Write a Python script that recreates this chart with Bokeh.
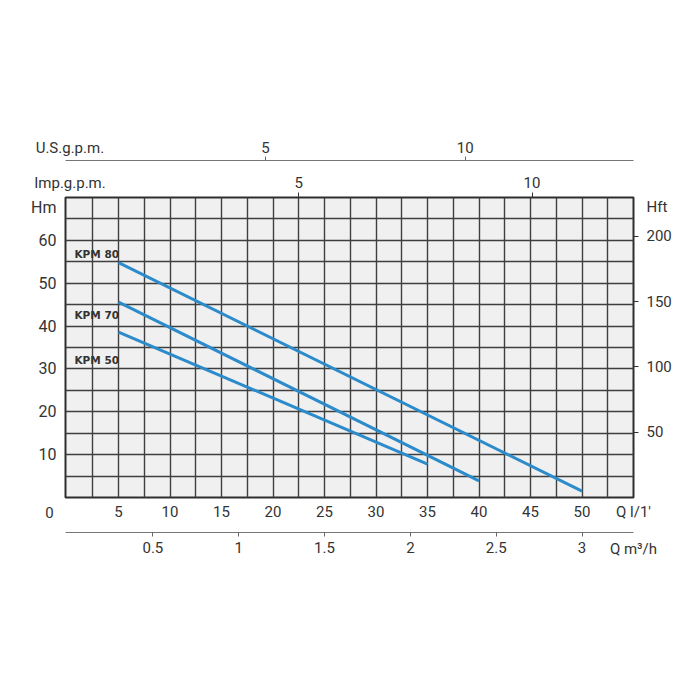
from bokeh.plotting import figure
from bokeh.models import Range1d, LinearAxis, FixedTicker, Label, ColumnDataSource
from bokeh.core.properties import value
from bokeh.embed import file_html
from bokeh.resources import INLINE

# ---- data ----
kpm80_q = [5, 50]
kpm80_h = [54.8, 1.5]
kpm70_q = [5, 40]
kpm70_h = [45.6, 3.9]
kpm50_q = [5, 35]
kpm50_h = [38.6, 7.8]
curve_names = ["KPM 80", "KPM 70", "KPM 50"]

flow_ticks = [5, 10, 15, 20, 25, 30, 35, 40, 45, 50]          # l/min
head_ticks = [10, 20, 30, 40, 50, 60]                          # m
hft_ticks = [50, 100, 150, 200]                                # ft
m3h_ticks = [0.5, 1, 1.5, 2, 2.5, 3]                           # m3/h
imp_ticks = [5, 10]                                            # Imp gpm
us_ticks = [5, 10]                                             # US gpm
grid_x = [2.5 * i for i in range(1, 22)]
grid_y = [5 * i for i in range(1, 14)]

X0, X1 = -0.15, 55.0
Y0, Y1 = 0, 70
FT = 3.2808

FONT = "Roboto"
TXT = "#333333"
BLUE = "#2b8bcb"

p = figure(frame_width=568, frame_height=300,
           x_range=Range1d(X0, X1), y_range=Range1d(Y0, Y1),
           output_backend="svg", toolbar_location=None,
           min_border_left=65, min_border_right=59,
           min_border_top=197, min_border_bottom=111)

p.background_fill_color = "#f0f0f0"
p.border_fill_color = "white"
p.outline_line_color = "#2e2e2e"
p.outline_line_width = 2

# grid
p.xgrid.ticker = FixedTicker(ticks=grid_x)
p.ygrid.ticker = FixedTicker(ticks=grid_y)
for g in (p.xgrid, p.ygrid):
    g.grid_line_color = "#3f3f3f"
    g.grid_line_width = 1.4

def style(ax, size="15px"):
    ax.major_label_text_font = FONT
    ax.major_label_text_font_size = size
    ax.major_label_text_color = TXT
    ax.minor_tick_line_color = None
    ax.major_tick_in = 0
    ax.minor_tick_in = 0

def axis_title(ax, text, standoff):
    ax.axis_label = text
    ax.axis_label_text_font = FONT
    ax.axis_label_text_font_style = "normal"
    ax.axis_label_text_font_size = "15px"
    ax.axis_label_text_color = TXT
    ax.axis_label_standoff_mode = "axis"
    ax.axis_label_standoff = standoff
    ax.axis_label_align = "end"
    ax.axis_label_text_align = "left"

def spacer(ax, size, standoff):
    ax.axis_label = "\u00a0"
    ax.axis_label_text_font_size = size
    ax.axis_label_standoff = standoff

# left axis (Hm) -- unit name carried as a label at the top of the scale
HM_POS = 67.6
ya = p.yaxis[0]
ya.ticker = FixedTicker(ticks=head_ticks + [HM_POS])
ya.major_label_overrides = {HM_POS: "Hm"}
style(ya, "16px")
ya.major_tick_out = 0
ya.axis_line_color = None
ya.major_label_standoff = 9

# right axis (Hft)
HFT_POS = 67.7 * FT
p.extra_y_ranges = {"ft": Range1d(Y0 * FT, Y1 * FT)}
ra = LinearAxis(y_range_name="ft",
                ticker=FixedTicker(ticks=hft_ticks + [HFT_POS], minor_ticks=hft_ticks))
ra.major_label_overrides = {HFT_POS: "Hft"}
style(ra, "15px")
ra.major_tick_out = 0
ra.minor_tick_out = 5
ra.minor_tick_line_color = "#333333"
ra.axis_line_color = None
ra.major_label_standoff = 8
p.add_layout(ra, "right")

# bottom axis 1 (l/min)
xa = p.xaxis[0]
xa.ticker = FixedTicker(ticks=flow_ticks)
style(xa)
xa.major_tick_out = 0
xa.axis_line_color = None
xa.major_label_standoff = 8
axis_title(xa, "Q l/1'", 5)

# spacer axis
sp = LinearAxis(ticker=FixedTicker(ticks=[]))
sp.axis_line_color = None
sp.major_tick_out = 0
sp.major_tick_in = 0
sp.minor_tick_out = 0
sp.minor_tick_in = 0
sp.major_label_standoff = 0
spacer(sp, "4px", 1)
p.add_layout(sp, "below")

# bottom axis 2 (m3/h)
p.extra_x_ranges = {
    "m3h": Range1d(X0 / 16.667, X1 / 16.667),
    "imp": Range1d(0, 12.175),
    "us": Range1d(0, 14.21),
}
ba = LinearAxis(x_range_name="m3h", ticker=FixedTicker(ticks=m3h_ticks))
style(ba)
ba.major_tick_out = 4
ba.major_tick_line_color = "#666666"
ba.axis_line_color = "#777777"
ba.axis_line_width = 1.2
ba.major_label_standoff = 5
axis_title(ba, "Q m\u00b3/h", 7)
p.add_layout(ba, "below")

# top axis 1 (Imp gpm)
IMP_POS = 0.096
ia = LinearAxis(x_range_name="imp",
                ticker=FixedTicker(ticks=[IMP_POS] + imp_ticks, minor_ticks=imp_ticks))
ia.major_label_overrides = {IMP_POS: "Imp.g.p.m."}
style(ia)
ia.major_tick_out = 0
ia.minor_tick_out = 5
ia.minor_tick_line_color = "#333333"
ia.axis_line_color = None
ia.major_label_standoff = 1
spacer(ia, "5px", 1)
p.add_layout(ia, "above")

# top axis 2 (US gpm)
US_POS = 0.11
ua = LinearAxis(x_range_name="us",
                ticker=FixedTicker(ticks=[US_POS] + us_ticks, minor_ticks=us_ticks))
ua.major_label_overrides = {US_POS: "U.S.g.p.m."}
style(ua)
ua.major_tick_out = 0
ua.minor_tick_out = 4
ua.minor_tick_line_color = "#666666"
ua.axis_line_color = "#777777"
ua.axis_line_width = 1.2
ua.major_label_standoff = 0
p.add_layout(ua, "above")

# curves
for q, h in ((kpm80_q, kpm80_h), (kpm70_q, kpm70_h), (kpm50_q, kpm50_h)):
    p.line(q, h, line_color=BLUE, line_width=3)

# curve labels
src = ColumnDataSource(dict(x=[0.72, 0.72, 0.72], y=[56.9, 42.5, 32.2], t=curve_names))
p.text(x="x", y="y", text="t", source=src, text_font=value("DejaVu Sans"),
       text_font_style="bold", text_font_size="10.5px", text_color=TXT,
       text_align="left", text_baseline="middle")

# origin "0" in the left side panel
p.add_layout(Label(x=29, y=-15, x_units="screen", y_units="screen", text="0",
                   text_font=FONT, text_font_size="15px", text_color=TXT,
                   text_align="center", text_baseline="middle"), "left")

open("out.html", "w").write(file_html(p, INLINE))
